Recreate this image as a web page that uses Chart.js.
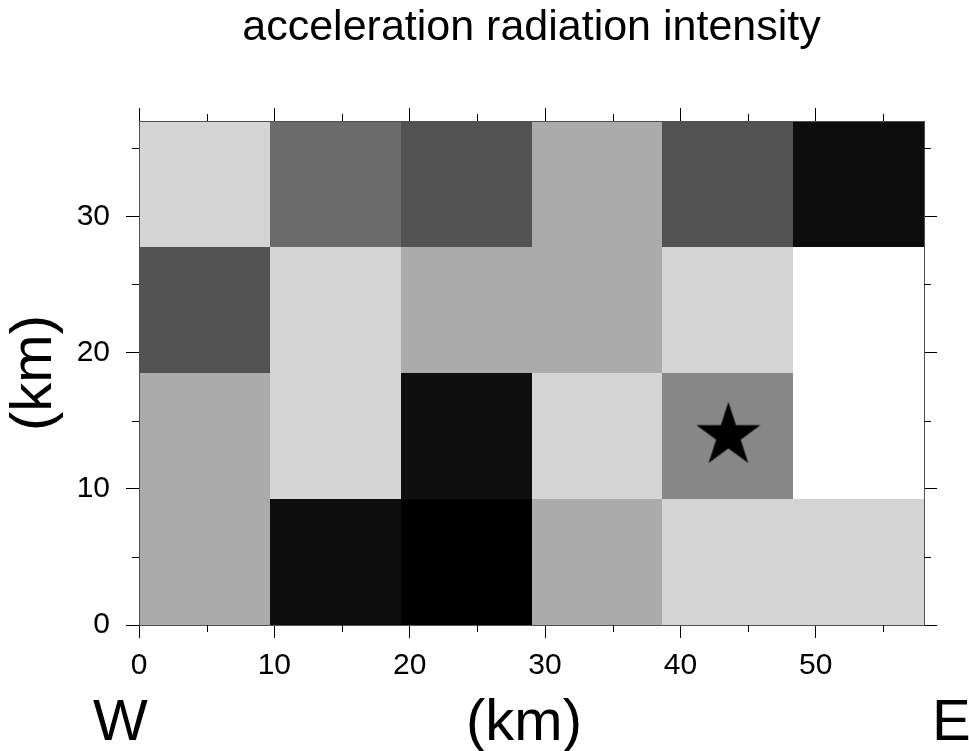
<!DOCTYPE html>
<html>
<head>
<meta charset="utf-8">
<script src="https://cdn.jsdelivr.net/npm/chart.js@4/dist/chart.umd.min.js"></script>
<style>
html,body{margin:0;padding:0;background:#fff;}
canvas{display:block;}
</style>
</head>
<body>
<canvas id="c" width="969" height="751"></canvas>
<script>
// ---- data ----
const chartTitle = 'acceleration radiation intensity';
const xAxisLabel = '(km)';
const yAxisLabel = '(km)';
const westLabel = 'W';
const eastLabel = 'E';

const xEdges = [0, 9.67, 19.33, 29, 38.67, 48.33, 58];   // cell boundaries W→E (km)
const yEdges = [0, 9.25, 18.5, 27.75, 37];               // cell boundaries S→N (km)

// radiation intensity per cell (0 = white … 1 = black), columns W→E
const row1 = [0.33, 0.95, 1.00, 0.33, 0.17, 0.17];  // bottom row
const row2 = [0.33, 0.17, 0.94, 0.17, 0.47, 0.00];
const row3 = [0.68, 0.17, 0.33, 0.33, 0.17, 0.00];
const row4 = [0.17, 0.58, 0.68, 0.33, 0.68, 0.95];  // top row

const epicenter = [{x: 43.55, y: 13.9}];

const xTicks = [0, 10, 20, 30, 40, 50];
const yTicks = [0, 10, 20, 30];
const xMinorTicks = [5, 15, 25, 35, 45, 55];
const yMinorTicks = [5, 15, 25, 35];

// ---- rendering ----
const FONT = '"Liberation Sans", Arial, Helvetica, sans-serif';
Chart.defaults.font.family = FONT;
Chart.defaults.color = '#000';

function makeStar(R) {
  const c = document.createElement('canvas');
  const s = 2 * Math.ceil(R + 2);
  c.width = s; c.height = s;
  const g = c.getContext('2d');
  const cx = s / 2, cy = s / 2, r = R * 0.382;
  g.beginPath();
  for (let i = 0; i < 10; i++) {
    const a = -Math.PI / 2 + i * Math.PI / 5;
    const rad = (i % 2) ? r : R;
    g.lineTo(cx + rad * Math.cos(a), cy + rad * Math.sin(a));
  }
  g.closePath();
  g.fillStyle = '#000';
  g.fill();
  return c;
}
const starImg = makeStar(33.7);

const rows = [row1, row2, row3, row4];

const heatPlugin = {
  id: 'heat',
  beforeDatasetsDraw(chart) {
    const {ctx, scales: {x, y}} = chart;
    ctx.save();
    rows.forEach((row, r) => {
      row.forEach((v, c) => {
        const g = Math.round(255 * (1 - v));
        ctx.fillStyle = `rgb(${g},${g},${g})`;
        const l = Math.round(x.getPixelForValue(xEdges[c]));
        const rr = Math.round(x.getPixelForValue(xEdges[c + 1]));
        const t = Math.round(y.getPixelForValue(yEdges[r + 1]));
        const b = Math.round(y.getPixelForValue(yEdges[r]));
        ctx.fillRect(l, t, rr - l, b - t);
      });
    });
    ctx.restore();
  }
};

const minorTickPlugin = {
  id: 'minorTicks',
  afterDraw(chart) {
    const {ctx, chartArea: a, scales: {x, y}} = chart;
    const len = 7;
    ctx.save();
    ctx.strokeStyle = '#000';
    ctx.lineWidth = 1;
    ctx.beginPath();
    xMinorTicks.forEach(v => {
      const px = Math.round(x.getPixelForValue(v)) + 0.5;
      ctx.moveTo(px, a.bottom); ctx.lineTo(px, a.bottom + len);
      ctx.moveTo(px, a.top); ctx.lineTo(px, a.top - len);
    });
    yMinorTicks.forEach(v => {
      const py = Math.round(y.getPixelForValue(v)) + 0.5;
      ctx.moveTo(a.left, py); ctx.lineTo(a.left - len, py);
      ctx.moveTo(a.right, py); ctx.lineTo(a.right + len, py);
    });
    ctx.stroke();
    ctx.restore();
  }
};

const textPlugin = {
  id: 'texts',
  afterDraw(chart) {
    const {ctx, chartArea: a} = chart;
    ctx.save();
    ctx.fillStyle = '#000';
    ctx.textBaseline = 'alphabetic';
    ctx.font = '43px ' + FONT;
    ctx.textAlign = 'center';
    ctx.fillText(chartTitle, (a.left + a.right) / 2, 40);
    ctx.font = '58px ' + FONT;
    ctx.textAlign = 'left';
    ctx.fillText(westLabel, 93, 740);
    ctx.textAlign = 'center';
    ctx.fillText(xAxisLabel, 524, 740);
    ctx.textAlign = 'left';
    ctx.fillText(eastLabel, 932, 740);
    ctx.restore();
  }
};

function setTicks(list) {
  return scale => { scale.ticks = list.map(v => ({value: v})); };
}

const gridOpts = {drawOnChartArea: false, drawTicks: true, tickLength: 13, color: '#000', tickColor: '#000', lineWidth: 1};
const borderOpts = {display: true, color: '#505050', width: 1, z: 1};

new Chart(document.getElementById('c'), {
  type: 'scatter',
  data: {
    datasets: [{
      label: 'epicenter',
      data: epicenter,
      pointStyle: starImg,
      pointRadius: 5,
      backgroundColor: '#000',
      borderColor: '#000'
    }]
  },
  options: {
    responsive: false,
    animation: false,
    events: [],
    layout: {padding: 0},
    plugins: {legend: {display: false}, tooltip: {enabled: false}, title: {display: false}},
    scales: {
      x: {
        type: 'linear', position: 'bottom', min: 0, max: 58,
        afterBuildTicks: setTicks(xTicks),
        afterFit: s => { s.height = 126; },
        ticks: {font: {size: 30}, color: '#000', padding: 10, maxRotation: 0, autoSkip: false},
        grid: gridOpts, border: borderOpts
      },
      x2: {
        type: 'linear', position: 'top', min: 0, max: 58,
        afterBuildTicks: setTicks(xTicks),
        afterFit: s => { s.height = 121; },
        ticks: {display: false},
        grid: gridOpts, border: borderOpts
      },
      y: {
        type: 'linear', position: 'left', min: 0, max: 37,
        afterBuildTicks: setTicks(yTicks),
        afterFit: s => { s.width = 139; },
        ticks: {font: {size: 30}, color: '#000', padding: 16, autoSkip: false},
        title: {display: true, text: yAxisLabel, font: {size: 58}, color: '#000', padding: {top: 0, bottom: 0}},
        grid: gridOpts, border: borderOpts
      },
      y2: {
        type: 'linear', position: 'right', min: 0, max: 37,
        afterBuildTicks: setTicks(yTicks),
        afterFit: s => { s.width = 45; },
        ticks: {display: false},
        grid: gridOpts, border: borderOpts
      }
    }
  },
  plugins: [heatPlugin, minorTickPlugin, textPlugin]
});
</script>
</body>
</html>
